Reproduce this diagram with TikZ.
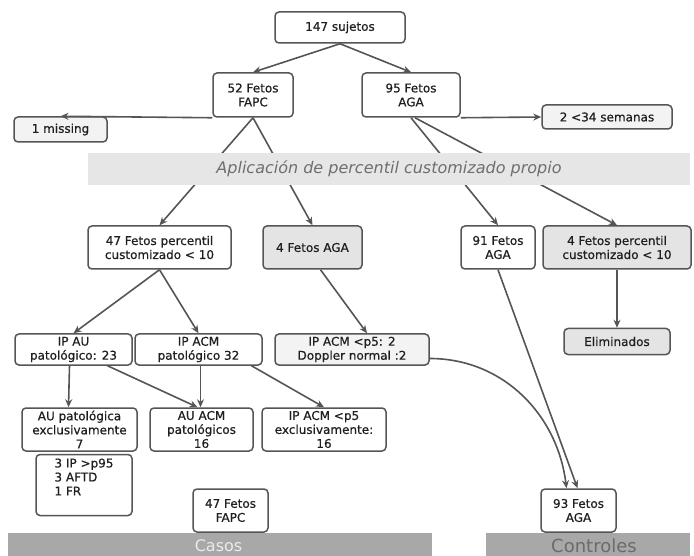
\documentclass[tikz,border=0pt]{standalone}
\usepackage{fontspec}
\setmainfont{DejaVu Sans}
\newfontface\boxfont{DejaVu Sans}[FakeBold=0.6]
\usetikzlibrary{positioning,arrows.meta}
\tikzset{>={Stealth[length=8pt,width=7pt]}}
\definecolor{edge}{HTML}{555555}
\definecolor{gfill}{HTML}{E4E4E4}
\definecolor{lfill}{HTML}{F3F3F3}
\definecolor{bandfill}{HTML}{E6E6E6}
\definecolor{bandtext}{HTML}{6E6E6E}
\definecolor{foot}{HTML}{A8A8A8}

\begin{document}
\begin{tikzpicture}[x=1pt, y=-1pt, node distance=6mm and 8mm,
  box/.style={draw=edge, line width=1.5pt, rounded corners=4pt, fill=white, align=center,
    inner sep=2pt, text=black!88, font=\fontsize{12}{14}\boxfont},
  gbox/.style={box, fill=gfill},
  lbox/.style={box, fill=lfill},
  con/.style={->, draw=edge, line width=1.6pt},
  band/.style={fill=bandfill, text=bandtext, font=\fontsize{16}{18}\selectfont\itshape}]
\clip (0,0) rectangle (694,556);
\node[box, minimum width=130pt, minimum height=31pt] (suj) at (340,27.5) {147 sujetos};
\node[box, minimum width=80pt, minimum height=44pt] (fapc) at (253,95) {52 Fetos\\FAPC};
\node[box, minimum width=98pt, minimum height=44pt] (aga) at (411,95) {95 Fetos\\AGA};
\node[lbox, minimum width=93pt, minimum height=25pt] (miss) at (60.5,129.5) {1 missing};
\node[lbox, minimum width=130pt, minimum height=24pt] (sem) at (607,117) {2 <34 semanas};
\node[box, minimum width=143pt, minimum height=43pt] (pc47) at (159.5,247.5) {47 Fetos percentil\\customizado < 10};
\node[gbox, minimum width=99pt, minimum height=43pt] (aga4) at (312.5,247.5) {4 Fetos AGA};
\node[box, minimum width=74pt, minimum height=43pt] (aga91) at (498,247.5) {91 Fetos\\AGA};
\node[gbox, minimum width=148pt, minimum height=43pt] (pc4) at (617,247.5) {4 Fetos percentil\\customizado < 10};
\node[gbox, minimum width=106pt, minimum height=26pt, below=58pt of pc4] (eli) {Eliminados};
\node[box, minimum width=117pt, minimum height=31pt] (ipau) at (73.5,349.5) {IP AU\\patológico: 23};
\node[box, minimum width=127pt, minimum height=31pt] (ipacm) at (198.5,349.5) {IP ACM\\patológico 32};
\node[lbox, minimum width=154pt, minimum height=31pt] (ipp5) at (352,349.5) {IP ACM <p5: 2\\Doppler normal :2};
\node[box, minimum width=115pt, minimum height=43pt] (auex) at (79.5,429.5) {AU patológica\\exclusivamente\\7};
\node[box, minimum width=96pt, minimum height=61pt, align=left, below=2pt of auex, xshift=4.5pt] (ipfr) {3 IP >p95\\3 AFTD\\1 FR\\[2pt]};
\node[box, minimum width=103pt, minimum height=43pt] (auacm) at (201.5,429.5) {AU ACM\\patológicos\\16};
\node[box, minimum width=124pt, minimum height=43pt] (ipex) at (324,429.5) {IP ACM <p5\\exclusivamente:\\16};
\node[box, minimum width=75pt, minimum height=43pt] (fapc47) at (230.5,510.5) {47 Fetos\\FAPC};
\node[box, minimum width=75pt, minimum height=43pt] (aga93) at (578.5,510.5) {93 Fetos\\AGA};
% conectores
\draw[con] (suj.south) -- (fapc.north); \draw[con] (suj.south) -- (aga.north);
\draw[con] (fapc.south west) -- (miss.north); \draw[con] (aga.south east) -- (sem.west);
\draw[con] (fapc.south) -- (pc47.north); \draw[con] (fapc.south) -- (aga4.north);
\draw[con] (aga.south) -- (aga91.north); \draw[con] ([xshift=4pt]aga.south) -- (pc4.north);
\draw[con] (pc47.south) -- (ipau.north); \draw[con] (pc47.south) -- (ipacm.north);
\draw[con] ([xshift=8pt]aga4.south) -- ([xshift=15pt]ipp5.north);
\draw[con] (pc4.south) -- (eli.north);
\draw[con] ([xshift=-4pt]ipau.south) -- ([xshift=-11pt]auex.north);
\draw[con] ([xshift=34pt]ipau.south) -- ([xshift=-4pt]auacm.north);
\draw[con] ([xshift=2pt]ipacm.south) -- ([xshift=-1pt]auacm.north);
\draw[con] ([xshift=53pt]ipacm.south) -- (ipex.north);
\draw[con] ([yshift=-9pt]ipp5.east) to[out=0, in=97] ([xshift=-12pt]aga93.north);
\draw[con] (aga91.south) -- ([xshift=-1pt]aga93.north);
% bandas
\node[band, minimum width=602pt, minimum height=32pt] (apl) at (389,169) {Aplicación de percentil customizado propio};
\fill[foot] (8,533) rectangle (432,560);
\fill[foot] (486,533) rectangle (690,560);
\node[text=white!92!black, font=\fontsize{16}{18}\selectfont, anchor=base] (casos) at (218.5,551) {Casos};
\node[text=black!58, font=\fontsize{18}{20}\selectfont, anchor=base] (ctrl) at (594,552) {Controles};
\end{tikzpicture}
\end{document}
